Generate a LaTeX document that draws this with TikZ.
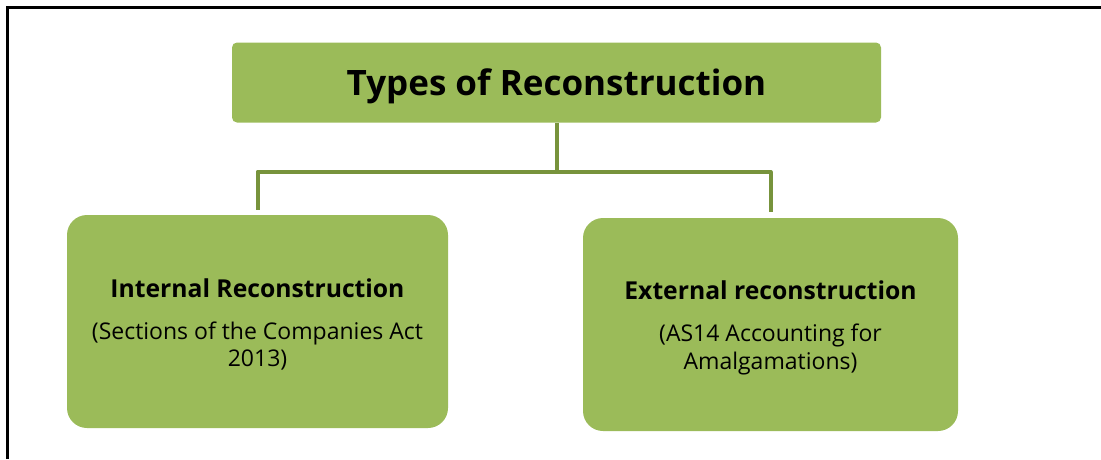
\documentclass[tikz,border=0pt]{standalone}
\usepackage{fontspec}
\setmainfont{Open Sans}
\usepackage{tikz}
\usetikzlibrary{positioning}
\definecolor{boxgreen}{HTML}{9BBB59}
\definecolor{linegreen}{HTML}{77933C}

\begin{document}
\begin{tikzpicture}[x=1pt,y=-1pt,
        box/.style={fill=boxgreen, align=center, inner sep=0pt},
        link/.style={draw=linegreen, line width=4pt, line join=round}]
        % Fix the frame of the picture
        \useasboundingbox (0,0) rectangle (1101,459);
        \draw[line width=3pt] (7,459) -- (7,7) -- (1101,7);
        % Define the boxes
        \node[box, minimum width=649, minimum height=80, rounded corners=5pt, text height=26pt, text depth=0pt,
              font=\fontsize{35}{40}\selectfont\bfseries] (title) at (556.5,82.5) {Types of Reconstruction};
        \node[box, minimum width=381, minimum height=213, rounded corners=20pt,
              font=\fontsize{23}{27.5}\selectfont] (internal) at (257.5,321.5)
              {\rule{0pt}{25pt}{\fontsize{24.7}{27}\selectfont\bfseries Internal Reconstruction}\\[14pt]
               (Sections of the Companies Act\\ 2013)};
        \node[box, minimum width=375, minimum height=213, rounded corners=20pt,
              font=\fontsize{23}{27.5}\selectfont] (external) at (770.5,324.5)
              {\rule{0pt}{25pt}{\fontsize{24.7}{27}\selectfont\bfseries External reconstruction}\\[15pt]
               (AS14 Accounting for\\ Amalgamations)};
        % Add connectors
        \coordinate (fork) at ([yshift=-49pt]title.south);
        \draw[link] (title.south) -- (fork) -| ([yshift=5pt]internal.north);
        \draw[link] (fork) -| ([yshift=6pt]external.north);
        \end{tikzpicture}
\end{document}
